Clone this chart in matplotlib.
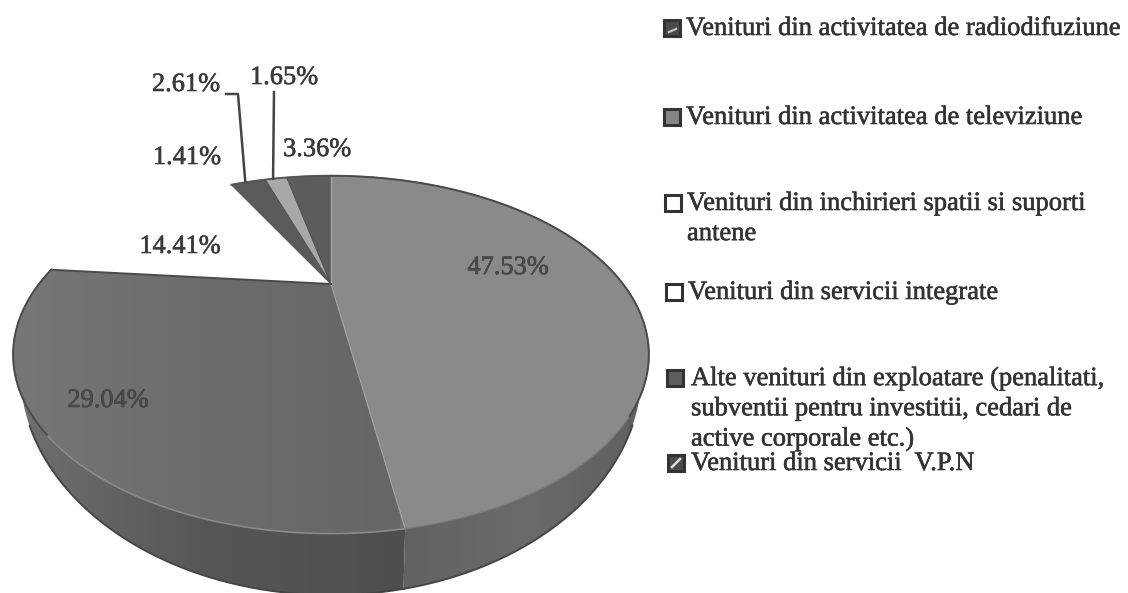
import numpy as np
import matplotlib
matplotlib.use("Agg")
import matplotlib.pyplot as plt
import matplotlib.patheffects as pe
from matplotlib.colors import LinearSegmentedColormap
from matplotlib.patches import Polygon, Rectangle

# slices, clockwise from 12 o'clock
slice_values = [47.53, 29.04, 14.41, 1.41, 2.61, 1.65, 3.36]
slice_labels = ["47.53%", "29.04%", "14.41%", "1.41%", "2.61%", "1.65%", "3.36%"]
legend_labels = [
    "Venituri din activitatea de radiodifuziune",
    "Venituri din activitatea de televiziune",
    "Venituri din inchirieri spatii si suporti\nantene",
    "Venituri din servicii integrate",
    "Alte venituri din exploatare (penalitati,\nsubventii pentru investitii, cedari de\nactive corporale etc.)",
    "Venituri din servicii  V.P.N",
]

# perspective of the tilted disc, in pixels
CX, CY = 331, 284
A, B, K = 292, 151, 0.395
# the bottom outline is a slightly different ellipse, scan has it that way
RIM_CY, BASE_CY = 354, 370
BASE_SX, BASE_SY = 0.978, 1.253

TOP_FILL = ["#8a8a8a", "#6f6f6f", None, None, "#5a5a5a", "#a8a8a8", "#5c5c5c"]
SIDE_STOPS = {0: ["#626262", "#6a6a6a", "#5e5e5e"], 1: ["#4e4e4e", "#565656", "#727272"]}
LABEL_POS = {
    "47.53%": (508, 268), "29.04%": (108, 401), "14.41%": (180, 247), "1.41%": (187, 158),
    "2.61%": (186, 85), "1.65%": (284, 78), "3.36%": (317, 150),
}
SWATCH_X = [664, 664, 665, 666, 667, 668]
SWATCH_Y = [28, 117, 203, 292, 378, 463]
TEXT_X = [686, 686, 687, 688, 691, 691]
SWATCH_FILL = ["#4a4a4a", "#858585", "#ffffff", "#ffffff", "#5e5e5e", "#4a4a4a"]


def project(theta):
    u, v = np.sin(theta), np.cos(theta)
    w = 1 + K * v
    return CX + A * u / w, CY - B * v / w


def to_base(x, y):
    return CX + (x - CX) * BASE_SX, BASE_CY + (y - RIM_CY) * BASE_SY


def gradient(ax, poly, stops, x0, x1):
    cmap = LinearSegmentedColormap.from_list("g", stops)
    im = ax.imshow(np.linspace(0, 1, 256)[None, :], cmap=cmap, extent=(x0, x1, 600, 150),
                   aspect="auto", zorder=poly.get_zorder(), interpolation="bilinear")
    im.set_clip_path(poly)


plt.rcParams["font.family"] = ["Liberation Serif", "DejaVu Serif"]
fig = plt.figure(figsize=(11.28, 5.93), dpi=100)
ax = fig.add_axes([0, 0, 1, 1])
stroke = [pe.withStroke(linewidth=0.4, foreground="#333333")]

edges = np.radians(np.cumsum([0] + slice_values) / np.sum(slice_values) * 360)

# side wall of the two big slices, lower half of the rim only
for i, stops in SIDE_STOPS.items():
    t = np.linspace(edges[i], edges[i + 1], 400)
    x, y = project(t)
    keep = y >= RIM_CY
    x, y = x[keep], y[keep]
    bx, by = to_base(x, y)
    pts = np.r_[np.c_[x, y], np.c_[bx[::-1], by[::-1]]]
    side = Polygon(pts, closed=True, fc="none", ec="none", zorder=1)
    ax.add_patch(side)
    if i == 0:
        gradient(ax, side, stops, 395, 660)
    else:
        gradient(ax, side, stops, 410, 0)
    # outline only where the wall sticks out under the rim
    vis = by >= 425
    ax.plot(bx[vis], by[vis], color="#454545", lw=1.4, zorder=3)

# top faces
for i, fill in enumerate(TOP_FILL):
    if fill is None:
        continue
    t = np.linspace(edges[i], edges[i + 1], 200)
    x, y = project(t)
    pts = np.r_[[[CX, CY]], np.c_[x, y]]
    top = Polygon(pts, closed=True, fc=fill, ec="#555555" if i > 1 else "none", lw=0.8, zorder=2)
    ax.add_patch(top)
    if i == 1:
        gradient(ax, top, ["#666666", "#6c6c6c", "#787878"], 400, 0)

# light edges and outlines
x, y = project(edges[0])
ax.plot([CX, x], [CY, y], color="#a5a5a5", lw=1, zorder=3)
x, y = project(edges[1])
ax.plot([CX, x], [CY, y], color="#a5a5a5", lw=0.8, zorder=3)
x, y = project(edges[2])
ax.plot([CX, x], [CY, y], color="#4a4a4a", lw=1.4, zorder=3)

t = np.linspace(edges[1], edges[2], 300)
x, y = project(t)
ax.plot(x, y, color="#8a8a8a", lw=1.2, zorder=3)
ax.plot(x[y < 436], y[y < 436], color="#4a4a4a", lw=1.4, zorder=3)
t = np.linspace(edges[0], edges[1], 300)
x, y = project(t)
ax.plot(x, y, color="#7a7a7a", lw=1.0, zorder=3)
ax.plot(x[y < 417], y[y < 417], color="#4a4a4a", lw=1.4, zorder=3)
t = np.linspace(edges[-4], edges[-1], 100)
x, y = project(t)
ax.plot(x, y, color="#555555", lw=1.4, zorder=3)

# leader lines
mid = (edges[:-1] + edges[1:]) / 2
x, y = project(mid[4])
ax.plot([226, 238, x - 3], [94, 94, y], color="#444444", lw=1.8, zorder=3)
x, y = project(mid[5])
ax.plot([274, x - 3], [92, y], color="#444444", lw=1.8, zorder=3)

for label in slice_labels:
    px, py = LABEL_POS[label]
    color = "#4a4a4a" if label in ("29.04%", "47.53%") else "#3a3a3a"
    ax.text(px, py, label, fontsize=19, color=color, ha="center", va="center", zorder=4,
            path_effects=stroke)

# legend drawn by hand, the source is a scanned sheet
for sx, sy, tx, label, fill in zip(SWATCH_X, SWATCH_Y, TEXT_X, legend_labels, SWATCH_FILL):
    ax.add_patch(Rectangle((sx, sy - 8), 16, 16, fc=fill, ec="#333333", lw=2.2, zorder=3))
    ax.text(tx, sy - 12, label, fontsize=19.1, color="#333333", va="top", ha="left",
            linespacing=1.27, zorder=4, path_effects=stroke)

# white diagonal marks in the first and last swatch
ax.plot([SWATCH_X[0] + 5, SWATCH_X[0] + 12], [SWATCH_Y[0] + 4, SWATCH_Y[0] + 1],
        color="#c0c0c0", lw=1.6, zorder=4)
ax.plot([SWATCH_X[5] + 4, SWATCH_X[5] + 12], [SWATCH_Y[5] + 4, SWATCH_Y[5] - 4],
        color="#e0e0e0", lw=1.8, zorder=4)

ax.set_xlim(0, 1128)
ax.set_ylim(593, 0)
ax.axis("off")
fig.savefig("out.png", dpi=100, facecolor="white")
